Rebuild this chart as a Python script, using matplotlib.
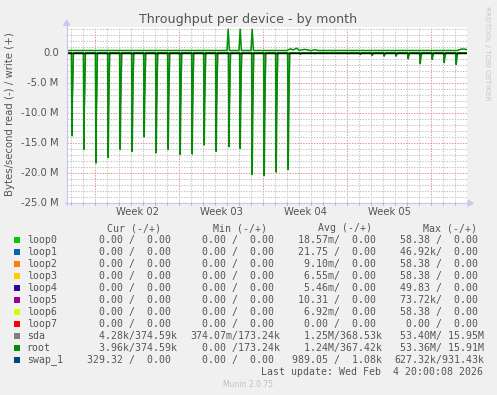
import matplotlib
matplotlib.use("Agg")
import matplotlib.pyplot as plt
from matplotlib.lines import Line2D
from matplotlib.patches import Polygon, Rectangle
import numpy as np

W, H = 497, 395

# ---------------- data ----------------
title = "Throughput per device - by month"
ylabel = "Bytes/second read (-) / write (+)"
week_labels = ["Week 02", "Week 03", "Week 04", "Week 05"]
week_label_days = [3.5, 10.5, 17.5, 24.5]
yticks_M = [0, -5, -10, -15, -20, -25]
ytick_labels = ["0.0", "-5.0 M", "-10.0 M", "-15.0 M", "-20.0 M", "-25.0 M"]

# read spikes (negative side), days relative to start of Week 02, MB/s
read_spike_days = [-1.92, -0.92, 0.08, 1.1, 2.1, 3.1, 4.1, 5.1, 6.1, 7.1, 8.1,
                   9.1, 10.1, 11.17, 12.1, 13.1, 14.1, 15.1, 16.1, 17.1, 18.1,
                   19.1, 20.1, 21.06, 22.1, 23.1, 24.1, 25.1, 26.1, 27.1, 28.1,
                   29.1, 30.1]
read_spike_M = [13.8, 16.05, 18.3, 17.4, 16.05, 16.4, 13.95, 16.6, 16.05, 16.9,
                16.8, 15.3, 16.4, 15.6, 15.9, 20.2, 20.4, 19.8, 19.4, 0.25, 0.1,
                0.1, 0.1, 0.15, 0.3, 0.45, 0.55, 0.55, 1.0, 1.8, 1.1, 1.65, 1.95]

# write series (positive side)
write_days = [-2.36, 11.0, 11.1, 11.2, 12.0, 12.1, 12.2, 13.0, 13.1, 13.2,
              16.0, 16.3, 16.5, 16.8, 17.0, 17.5, 18.0, 18.3, 18.6, 30.2,
              30.5, 30.8, 31.0]
write_M = [0.37, 0.37, 3.9, 0.37, 0.37, 3.9, 0.37, 0.37, 3.9, 0.37,
           0.37, 0.65, 0.45, 0.75, 0.4, 0.55, 0.35, 0.5, 0.37, 0.37,
           0.6, 0.6, 0.5]

names = ["loop0", "loop1", "loop2", "loop3", "loop4", "loop5", "loop6",
         "loop7", "sda", "root", "swap_1"]
colors = ["#00CC00", "#0066B3", "#FF8000", "#FFCC00", "#330099", "#990099",
          "#CCFF00", "#FF0000", "#808080", "#008F00", "#00487D"]
cur_vals = ["  0.00 /  0.00"] * 8 + ["  4.28k/374.59k", "  3.96k/374.59k",
                                     "329.32 /  0.00"]
min_vals = ["  0.00 /  0.00"] * 8 + ["374.07m/173.24k", "  0.00 /173.24k",
                                     "  0.00 /  0.00"]
avg_vals = [" 18.57m/  0.00", " 21.75 /  0.00", "  9.10m/  0.00",
            "  6.55m/  0.00", "  5.46m/  0.00", " 10.31 /  0.00",
            "  6.92m/  0.00", "  0.00 /  0.00", "  1.25M/368.53k",
            "  1.24M/367.42k", "989.05 /  1.08k"]
max_vals = [" 58.38 /  0.00", " 46.92k/  0.00", " 58.38 /  0.00",
            " 58.38 /  0.00", " 49.83 /  0.00", " 73.72k/  0.00",
            " 58.38 /  0.00", "  0.00 /  0.00", " 53.40M/ 15.95M",
            " 53.36M/ 15.91M", "627.32k/931.43k"]
headers = ["Cur (-/+)", "Min (-/+)", "Avg (-/+)", "Max (-/+)"]
last_update = "Last update: Wed Feb  4 20:00:08 2026"
footer = "Munin 2.0.75"
side_text = "RRDTOOL / TOBI OETIKER"

# ---------------- figure ----------------
BG = "#F0F0F0"
TXT = "#555555"
fig = plt.figure(figsize=(W / 100, H / 100), dpi=100, facecolor=BG)


def fx(x):
    return x / W


def fy(y):
    return 1 - y / H


left, right, top, bottom = 66.7, 467.0, 27.3, 203.3
ax = fig.add_axes([fx(left), fy(bottom), (right - left) / W, (bottom - top) / H])
ax.set_facecolor("white")
for s in ax.spines.values():
    s.set_visible(False)

xmin, xmax = (left - 95) / 12.0, (right - 95) / 12.0
ymin, ymax = -25e6, 4.22e6
ax.set_xlim(xmin, xmax)
ax.set_ylim(ymin, ymax)

# grid
minor_c = "#C4C4C4"
major_c = "#E09494"
for d in np.arange(np.ceil(xmin), xmax, 1.0):
    is_major = (int(round(d)) % 7 == 0)
    ax.axvline(d, color=major_c if is_major else minor_c, lw=0.75,
               ls=(0, (1.3, 1.3)), zorder=1)
for m in np.arange(-25, 5, 1):
    is_major = (m % 5 == 0)
    if m == 0:
        continue
    ax.axhline(m * 1e6, color=major_c if is_major else minor_c, lw=0.75,
               ls=(0, (1.3, 1.3)), zorder=1)

# read series (sda gray under root green)
rx, ry = [xmin], [0.0]
for t, v in zip(read_spike_days, read_spike_M):
    rx += [t - 0.05, t, t + 0.03, t + 0.12]
    ry += [0.0, -v * 1e6, -v * 0.55e6, 0.0]
rx.append(xmax)
ry.append(0.0)
ax.fill_between(rx, ry, 0, color="#008F00", alpha=0.35, lw=0, zorder=2)
ax.plot(np.array(rx) + 0.02, ry, color="#808080", lw=0.8, zorder=3)
ax.plot(rx, ry, color="#008F00", lw=1.1, zorder=4)

# write series
ax.plot(write_days, np.array(write_M) * 1e6, color="#008F00", lw=1.1, zorder=4)
ax.axhline(0, color="black", lw=1.0, zorder=5)

ax.set_xticks([])
ax.set_yticks([])

# y tick labels
for v, lab in zip(yticks_M, ytick_labels):
    ax.text(-0.02, (v * 1e6 - ymin) / (ymax - ymin), lab, transform=ax.transAxes,
            ha="right", va="center", fontsize=7.2, color=TXT,
            family="DejaVu Sans")
# week labels
for d, lab in zip(week_label_days, week_labels):
    ax.text(d, -0.05, lab, transform=ax.get_xaxis_transform(), ha="center",
            va="center", fontsize=7.2, color=TXT, family="DejaVu Sans")

# axis lines with arrows
axis_c = "#C8C8F0"
fig.add_artist(Line2D([fx(left), fx(left)], [fy(bottom + 2), fy(top - 3)],
                      color=axis_c, lw=0.9))
fig.add_artist(Line2D([fx(left - 2), fx(right + 2)], [fy(bottom), fy(bottom)],
                      color=axis_c, lw=0.9))
fig.add_artist(Polygon([[fx(left - 3), fy(top - 2)], [fx(left + 3), fy(top - 2)],
                        [fx(left), fy(top - 7)]], closed=True, color=axis_c))
fig.add_artist(Polygon([[fx(right + 1), fy(bottom - 3)], [fx(right + 1), fy(bottom + 3)],
                        [fx(right + 6), fy(bottom)]], closed=True, color=axis_c))
# small tick marks
for d in np.arange(np.ceil(xmin), xmax, 1.0):
    xp = left + (d - xmin) / (xmax - xmin) * (right - left)
    fig.add_artist(Line2D([fx(xp), fx(xp)], [fy(bottom - 1), fy(bottom + 1.5)],
                          color="#B0B0C8", lw=0.6))

# title and labels
fig.text(fx(248.5), fy(19), title, ha="center", va="center", fontsize=9.1,
         color=TXT, family="DejaVu Sans")
fig.text(fx(10), fy(114), ylabel, ha="center", va="center", rotation=90,
         fontsize=7.3, color=TXT, family="DejaVu Sans")
fig.text(fx(487), fy(53), side_text, ha="center", va="center", rotation=270,
         fontsize=5.3, color="#C8C8C8", family="DejaVu Sans")

# legend
mono = dict(family="DejaVu Sans Mono", fontsize=7.1, color=TXT, va="center")
header_x = [107.3, 212.7, 318.3, 422.7]
for hx, h in zip(header_x, headers):
    fig.text(fx(hx), fy(228.3), h, ha="left", **mono)
col_x = [87.3, 190.0, 292.5, 394.2]
for i, name in enumerate(names):
    yy = 239.7 + 12 * i
    fig.add_artist(Rectangle((fx(13.5), fy(yy + 3)), 6 / W, 6 / H,
                             color=colors[i], lw=0))
    fig.text(fx(26.7), fy(yy), name, ha="left", **mono)
    for cx, vals in zip(col_x, [cur_vals, min_vals, avg_vals, max_vals]):
        fig.text(fx(cx), fy(yy), vals[i], ha="left", **mono)
fig.text(fx(483), fy(371.7), last_update, ha="right", **mono)
fig.text(fx(248), fy(384.3), footer, ha="center", va="center", fontsize=5.5,
         color="#C0C0C0", family="DejaVu Sans")

fig.savefig("out.png", dpi=100, facecolor=BG)
